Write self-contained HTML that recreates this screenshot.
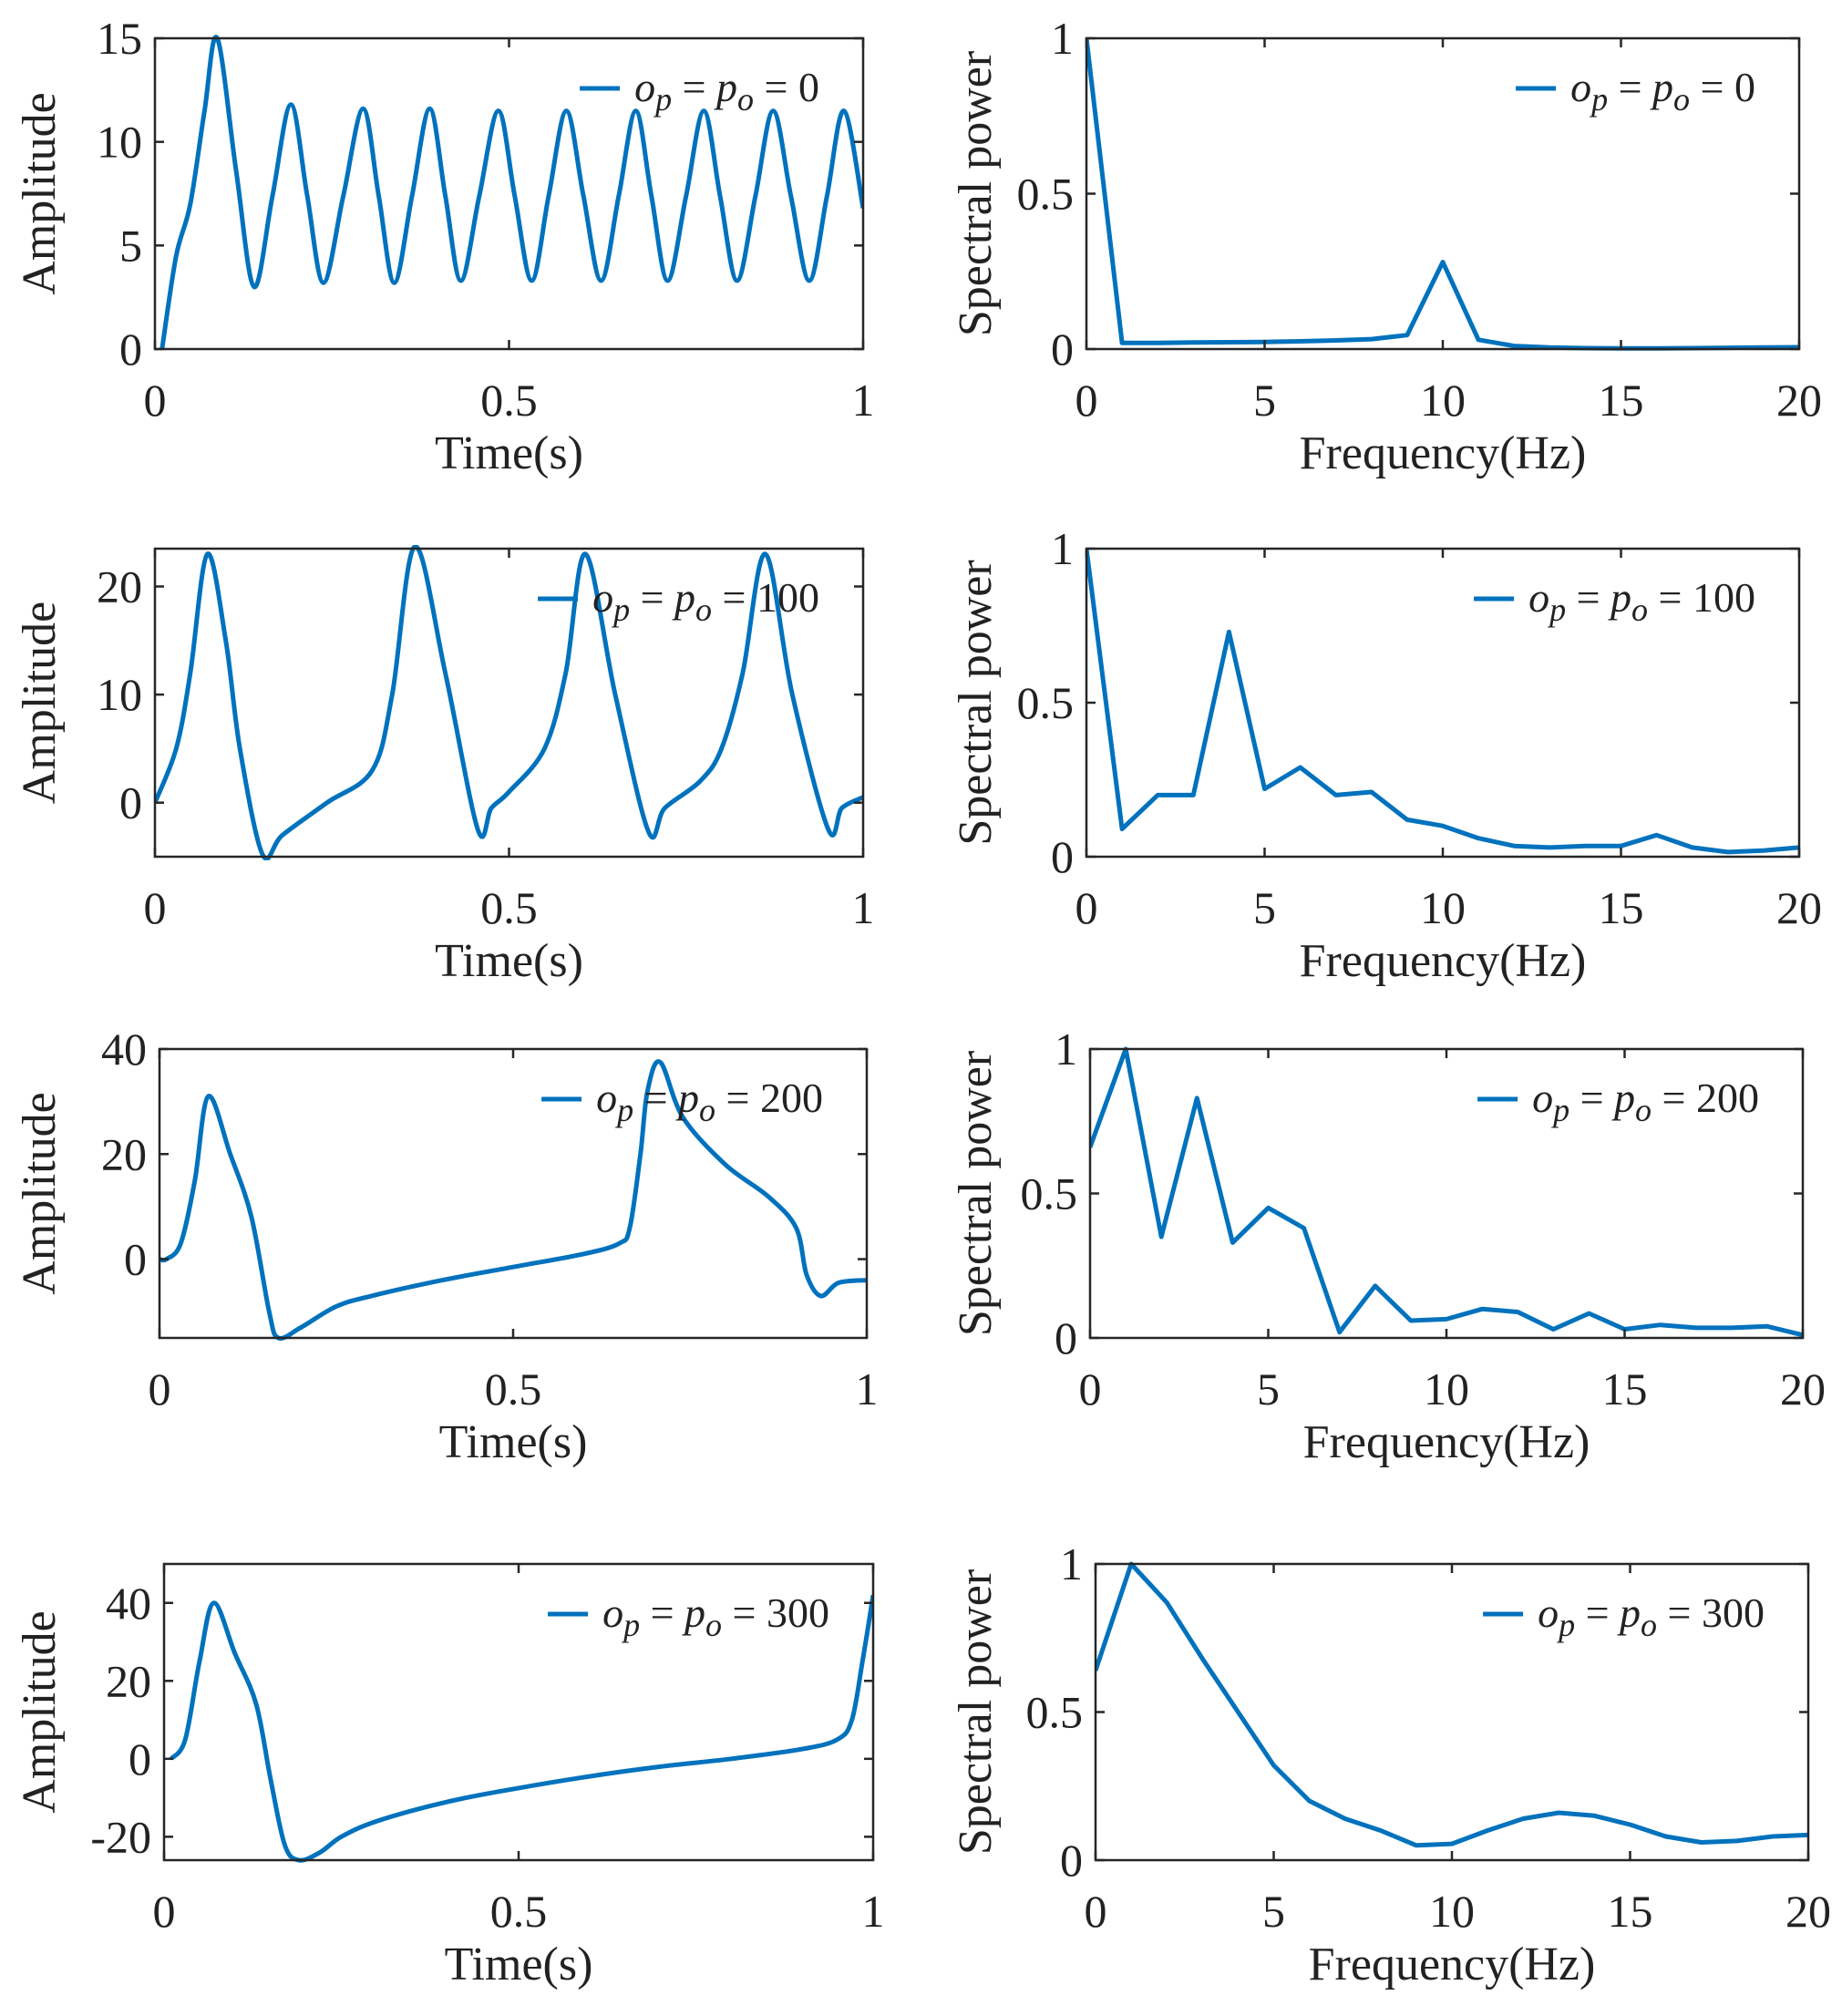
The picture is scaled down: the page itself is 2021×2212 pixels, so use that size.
<!DOCTYPE html>
<html><head><meta charset="utf-8">
<style>
html,body{margin:0;padding:0;background:#fff;}
svg{display:block;}
text{font-family:"Liberation Serif",serif;fill:#222;}
</style></head>
<body>
<svg id="fig" width="2021" height="2212" viewBox="0 0 2021 2212" xmlns="http://www.w3.org/2000/svg"></svg>
<script>
// ---- data ----
const t1 = [0.01,0.03,0.05,0.07,0.088,0.115,0.140,0.166,0.192,0.215,0.238,0.266,0.294,0.316,0.338,0.363,0.388,0.410,0.432,0.458,0.485,0.508,0.532,0.556,0.581,0.605,0.630,0.655,0.679,0.701,0.724,0.750,0.775,0.798,0.822,0.848,0.873,0.898,0.924,0.949,0.973,1.0];
const v1 = [0,4.5,7,11.5,15,8.5,3,7.4,11.8,7.4,3.2,7.4,11.6,7.4,3.2,7.4,11.6,7.4,3.3,7.4,11.5,7.4,3.3,7.4,11.5,7.4,3.3,7.4,11.5,7.4,3.3,7.4,11.5,7.4,3.3,7.4,11.5,7.4,3.3,7.4,11.5,6.8];
const t2 = [0,0.03,0.05,0.074,0.1,0.12,0.152,0.18,0.243,0.307,0.335,0.367,0.41,0.456,0.475,0.5,0.55,0.58,0.608,0.65,0.697,0.72,0.77,0.8,0.83,0.862,0.9,0.951,0.97,1.0];
const v2 = [0,5,12,23,15,5,-4.8,-3,0,3,10,23.7,12,-2.5,-0.5,1,5,12,23,10,-2.7,-0.5,2,5,12,23,10,-2.5,-0.5,0.5];
const t3 = [0,0.01,0.03,0.05,0.069,0.1,0.13,0.155,0.168,0.2,0.25,0.3,0.4,0.5,0.6,0.65,0.665,0.68,0.69,0.708,0.74,0.8,0.86,0.9,0.915,0.935,0.96,1.0];
const v3 = [0,0,3,15,31,20,8,-10,-15,-13,-9,-7,-4,-1.5,1,3,6,20,32,37.5,27,18,12,6,-3,-7,-4.5,-4];
const t4 = [0.01,0.03,0.05,0.07,0.1,0.13,0.15,0.17,0.19,0.22,0.25,0.3,0.4,0.5,0.6,0.7,0.8,0.9,0.95,0.97,0.985,1.0];
const v4 = [0,5,25,40,27,14,-5,-22,-26,-24,-20,-16,-11,-7.5,-4.5,-2,0,2.5,5,10,25,42];
const freqs = [0,1,2,3,4,5,6,7,8,9,10,11,12,13,14,15,16,17,18,19,20];
const s1 = [1,0.02,0.02,0.021,0.022,0.023,0.025,0.028,0.032,0.045,0.28,0.03,0.01,0.005,0.003,0.002,0.002,0.003,0.004,0.005,0.006];
const s2 = [1,0.09,0.2,0.2,0.73,0.22,0.29,0.2,0.21,0.12,0.1,0.06,0.035,0.03,0.035,0.035,0.07,0.03,0.015,0.02,0.03];
const s3 = [0.66,1,0.35,0.83,0.33,0.45,0.38,0.02,0.18,0.06,0.065,0.1,0.09,0.03,0.085,0.03,0.045,0.035,0.035,0.04,0.01];
const s4 = [0.64,1,0.87,0.68,0.5,0.32,0.2,0.14,0.1,0.05,0.055,0.1,0.14,0.16,0.15,0.12,0.08,0.06,0.065,0.08,0.085];
const legendVals = ["0","100","200","300"];
const timeTicks = [0,0.5,1];
const timeTickLabels = ["0","0.5","1"];
const ampTicks = [[0,5,10,15],[0,10,20],[0,20,40],[-20,0,20,40]];
const freqTicks = [0,5,10,15,20];
const specTicks = [0,0.5,1];
const specTickLabels = ["0","0.5","1"];

const NS="http://www.w3.org/2000/svg";
const svg=document.getElementById('fig');
function el(tag,attrs,parent){const e=document.createElementNS(NS,tag);for(const k in attrs)e.setAttribute(k,attrs[k]);(parent||svg).appendChild(e);return e;}

const panels=[
 {x0:170,x1:947,y0:42,y1:383,xs:[0,1],ys:[0,15],xt:timeTicks,xl:timeTickLabels,yt:ampTicks[0],yl:ampTicks[0].map(String),X:t1,Y:v1,smooth:true,lab:"Time(s)",ylab:"Amplitude",leg:legendVals[0],name:"amplitude-0"},
 {x0:1192,x1:1974,y0:42,y1:383,xs:[0,20],ys:[0,1],xt:freqTicks,xl:freqTicks.map(String),yt:specTicks,yl:specTickLabels,X:freqs,Y:s1,smooth:false,lab:"Frequency(Hz)",ylab:"Spectral power",leg:legendVals[0],name:"spectrum-0"},
 {x0:170,x1:947,y0:602,y1:940,xs:[0,1],ys:[-5,23.5],xt:timeTicks,xl:timeTickLabels,yt:ampTicks[1],yl:ampTicks[1].map(String),X:t2,Y:v2,smooth:true,lab:"Time(s)",ylab:"Amplitude",leg:legendVals[1],name:"amplitude-100"},
 {x0:1192,x1:1974,y0:602,y1:940,xs:[0,20],ys:[0,1],xt:freqTicks,xl:freqTicks.map(String),yt:specTicks,yl:specTickLabels,X:freqs,Y:s2,smooth:false,lab:"Frequency(Hz)",ylab:"Spectral power",leg:legendVals[1],name:"spectrum-100"},
 {x0:175,x1:951,y0:1151,y1:1468,xs:[0,1],ys:[-15,40],xt:timeTicks,xl:timeTickLabels,yt:ampTicks[2],yl:ampTicks[2].map(String),X:t3,Y:v3,smooth:true,lab:"Time(s)",ylab:"Amplitude",leg:legendVals[2],name:"amplitude-200"},
 {x0:1196,x1:1978,y0:1151,y1:1468,xs:[0,20],ys:[0,1],xt:freqTicks,xl:freqTicks.map(String),yt:specTicks,yl:specTickLabels,X:freqs,Y:s3,smooth:false,lab:"Frequency(Hz)",ylab:"Spectral power",leg:legendVals[2],name:"spectrum-200"},
 {x0:180,x1:958,y0:1716,y1:2041,xs:[0,1],ys:[-26,50],xt:timeTicks,xl:timeTickLabels,yt:ampTicks[3],yl:ampTicks[3].map(String),X:t4,Y:v4,smooth:true,lab:"Time(s)",ylab:"Amplitude",leg:legendVals[3],name:"amplitude-300"},
 {x0:1202,x1:1984,y0:1716,y1:2041,xs:[0,20],ys:[0,1],xt:freqTicks,xl:freqTicks.map(String),yt:specTicks,yl:specTickLabels,X:freqs,Y:s4,smooth:false,lab:"Frequency(Hz)",ylab:"Spectral power",leg:legendVals[3],name:"spectrum-300"}
];

function catmull(pts){
  let d="M"+pts[0][0]+","+pts[0][1];
  for(let i=0;i<pts.length-1;i++){
    const p0=pts[Math.max(0,i-1)],p1=pts[i],p2=pts[i+1],p3=pts[Math.min(pts.length-1,i+2)];
    const c1=[p1[0]+(p2[0]-p0[0])/6,p1[1]+(p2[1]-p0[1])/6];
    const c2=[p2[0]-(p3[0]-p1[0])/6,p2[1]-(p3[1]-p1[1])/6];
    d+=" C"+c1[0].toFixed(1)+","+c1[1].toFixed(1)+" "+c2[0].toFixed(1)+","+c2[1].toFixed(1)+" "+p2[0].toFixed(1)+","+p2[1].toFixed(1);
  }
  return d;
}

panels.forEach(p=>{
  const g=el('g',{});
  
  
  const sx=v=>p.x0+(v-p.xs[0])/(p.xs[1]-p.xs[0])*(p.x1-p.x0);
  const sy=v=>p.y1-(v-p.ys[0])/(p.ys[1]-p.ys[0])*(p.y1-p.y0);
  const clip=el('clipPath',{id:'c'+p.name},g);
  el('rect',{x:p.x0,y:p.y0-4,width:p.x1-p.x0,height:p.y1-p.y0+8},clip);
  const pts=p.X.map((x,i)=>[sx(x),sy(p.Y[i])]);
  const d=p.smooth?catmull(pts):"M"+pts.map(q=>q[0].toFixed(1)+","+q[1].toFixed(1)).join(" L");
  const line=el('path',{d:d,fill:'none',stroke:'#0072BD','stroke-width':5,'stroke-linejoin':'round','clip-path':'url(#c'+p.name+')'},g);
  
  
  const box=el('rect',{x:p.x0,y:p.y0,width:p.x1-p.x0,height:p.y1-p.y0,fill:'none',stroke:'#262626','stroke-width':2.5},g);
  
  
  p.xt.forEach((v,i)=>{
    const x=sx(v);
    el('line',{x1:x,x2:x,y1:p.y1,y2:p.y1-10,stroke:'#262626','stroke-width':2.5},g);
    el('line',{x1:x,x2:x,y1:p.y0,y2:p.y0+10,stroke:'#262626','stroke-width':2.5},g);
    const t=el('text',{x:x,y:p.y1+73,'font-size':50,'text-anchor':'middle'},g);
    t.textContent=p.xl[i];
    
    
  });
  p.yt.forEach((v,i)=>{
    const y=sy(v);
    el('line',{x1:p.x0,x2:p.x0+10,y1:y,y2:y,stroke:'#262626','stroke-width':2.5},g);
    el('line',{x1:p.x1,x2:p.x1-10,y1:y,y2:y,stroke:'#262626','stroke-width':2.5},g);
    const t=el('text',{x:p.x0-14,y:y+17,'font-size':50,'text-anchor':'end'},g);
    t.textContent=p.yl[i];
    
    
  });
  const xl=el('text',{x:(p.x0+p.x1)/2,y:p.y1+131,'font-size':52,'text-anchor':'middle'},g);
  xl.textContent=p.lab;
  
  
  const yx=p.smooth?60:1087;
  const yl=el('text',{x:yx,y:(p.y0+p.y1)/2,'font-size':52,'text-anchor':'middle',transform:'rotate(-90 '+yx+' '+(p.y0+p.y1)/2+')'},g);
  yl.textContent=p.ylab;
  
  
  const lg=el('g',{},g);
  
  
  const ly=p.y0+55;
  const lt=el('text',{x:p.x1-48,y:ly+14,'font-size':46,'text-anchor':'end'},lg);
  lt.innerHTML='<tspan font-style="italic">o</tspan><tspan font-style="italic" font-size="36" dy="10">p</tspan><tspan dy="-10"> = </tspan><tspan font-style="italic">p</tspan><tspan font-style="italic" font-size="36" dy="10">o</tspan><tspan dy="-10"> = '+p.leg+'</tspan>';
  const w=lt.getComputedTextLength();
  const sxl=p.x1-48-w-16;
  el('line',{x1:sxl-44,x2:sxl,y1:ly,y2:ly,stroke:'#0072BD','stroke-width':5},lg);
});
</script>
</body></html>
